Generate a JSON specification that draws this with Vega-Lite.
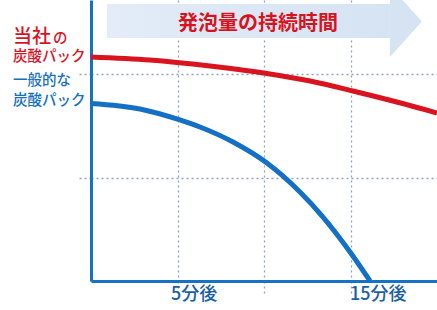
{
  "$schema": "https://vega.github.io/schema/vega-lite/v6.json",
  "width": 346,
  "height": 281,
  "autosize": {"type": "none"},
  "padding": {"left": 91, "top": 0, "right": 0, "bottom": 29},
  "background": "white",
  "config": {"view": {"stroke": null}},
  "datasets": {
    "curves": [
      {"series": "当社", "t": 0, "v": 2.164},
      {"series": "当社", "t": 3.41, "v": 2.135},
      {"series": "当社", "t": 6.88, "v": 2.077},
      {"series": "当社", "t": 10.17, "v": 2.005},
      {"series": "当社", "t": 12.66, "v": 1.932},
      {"series": "当社", "t": 15.14, "v": 1.836},
      {"series": "当社", "t": 17.57, "v": 1.734},
      {"series": "当社", "t": 20, "v": 1.623},
      {"series": "一般", "t": 0, "v": 1.715},
      {"series": "一般", "t": 2.83, "v": 1.662},
      {"series": "一般", "t": 5.14, "v": 1.556},
      {"series": "一般", "t": 6.3, "v": 1.488},
      {"series": "一般", "t": 8.21, "v": 1.343},
      {"series": "一般", "t": 10.17, "v": 1.14},
      {"series": "一般", "t": 12.08, "v": 0.86},
      {"series": "一般", "t": 13.41, "v": 0.618},
      {"series": "一般", "t": 15.14, "v": 0.242},
      {"series": "一般", "t": 16.13, "v": 0.0}
    ],
    "labels": [
      {"series": "当社", "kind": "big", "text": "当社", "t": -4.509, "v": 2.295},
      {"series": "当社", "kind": "small", "text": "の", "t": -2.2, "v": 2.295},
      {"series": "当社", "kind": "small", "text": "炭酸パック", "t": -4.509, "v": 2.122},
      {"series": "一般", "kind": "small", "text": "一般的な", "t": -4.509, "v": 1.889},
      {"series": "一般", "kind": "small", "text": "炭酸パック", "t": -4.509, "v": 1.696}
    ],
    "banner": [
      {"x0": 0.925, "x1": 17.28, "y0": 2.348, "y1": 2.676, "tip": 17.28, "mid": 2.507, "title": "発泡量の持続時間", "tc": 9.65, "tv": 2.425}
    ]
  },
  "layer": [
    {
      "data": {"name": "banner"},
      "mark": {
        "type": "rect",
        "color": {
          "gradient": "linear", "x1": 0, "x2": 1, "y1": 0, "y2": 0,
          "stops": [{"offset": 0, "color": "#e3ecf7"}, {"offset": 1, "color": "#d5e3f3"}]
        }
      },
      "encoding": {
        "x": {"field": "x0", "type": "quantitative", "scale": {"domain": [0, 20], "nice": false, "zero": false},
          "axis": {
            "values": [5, 10, 15],
            "labelExpr": "datum.value == 5 ? '5分後' : datum.value == 15 ? '15分後' : ''",
            "title": null,
            "grid": true, "gridColor": "#8fa0c4", "gridDash": [2, 3], "gridWidth": 1.3,
            "domainColor": "#1572c4", "domainWidth": 3,
            "ticks": true, "tickSize": 15, "tickColor": "#8fa0c4", "tickDash": [2, 3], "tickWidth": 1.3,
            "labelFont": "Noto Sans CJK JP", "labelFontSize": 18, "labelFontWeight": 500,
            "labelColor": "#1b5fa8", "labelAlign": "left", "labelBaseline": "top",
            "labelOffset": {"condition": {"test": "datum.value == 5", "value": -7}, "value": -1},
            "labelPadding": -11
          }},
        "x2": {"field": "x1"},
        "y": {"field": "y0", "type": "quantitative", "scale": {"domain": [0, 2.715], "nice": false, "zero": false},
          "axis": {
            "values": [1, 2], "labels": false, "title": null,
            "grid": true, "gridColor": "#8fa0c4", "gridDash": [2, 3], "gridWidth": 1.3,
            "domainColor": "#1572c4", "domainWidth": 3,
            "ticks": true, "tickSize": 13, "tickColor": "#8fa0c4", "tickDash": [2, 3], "tickWidth": 1.3
          }},
        "y2": {"field": "y1"}
      }
    },
    {
      "data": {"name": "banner"},
      "mark": {"type": "point", "shape": "M0,-1L0.9,0L0,1Z", "size": 5041, "filled": true, "color": "#d5e3f3", "opacity": 1, "strokeWidth": 0},
      "encoding": {
        "x": {"field": "tip", "type": "quantitative"},
        "y": {"field": "mid", "type": "quantitative"}
      }
    },
    {
      "data": {"name": "banner"},
      "mark": {"type": "text", "font": "Noto Sans CJK JP", "fontSize": 20, "fontWeight": "bold", "color": "#d7141e", "align": "center", "baseline": "alphabetic"},
      "encoding": {
        "x": {"field": "tc", "type": "quantitative"},
        "y": {"field": "tv", "type": "quantitative"},
        "text": {"field": "title"}
      }
    },
    {
      "data": {"name": "curves"},
      "mark": {"type": "line", "strokeWidth": 5, "interpolate": "monotone", "strokeCap": "butt"},
      "encoding": {
        "x": {"field": "t", "type": "quantitative"},
        "y": {"field": "v", "type": "quantitative"},
        "color": {"field": "series", "type": "nominal", "scale": {"domain": ["当社", "一般"], "range": ["#d9141f", "#1470c4"]}, "legend": null}
      }
    },
    {
      "data": {"name": "labels"},
      "transform": [{"filter": "datum.kind == 'big'"}],
      "mark": {"type": "text", "font": "Noto Sans CJK JP", "fontSize": 19, "fontWeight": 500, "align": "left", "baseline": "alphabetic"},
      "encoding": {
        "x": {"field": "t", "type": "quantitative"},
        "y": {"field": "v", "type": "quantitative"},
        "text": {"field": "text"},
        "color": {"field": "series", "type": "nominal", "legend": null}
      }
    },
    {
      "data": {"name": "labels"},
      "transform": [{"filter": "datum.kind == 'small'"}],
      "mark": {"type": "text", "font": "Noto Sans CJK JP", "fontSize": 14.5, "fontWeight": 500, "align": "left", "baseline": "alphabetic"},
      "encoding": {
        "x": {"field": "t", "type": "quantitative"},
        "y": {"field": "v", "type": "quantitative"},
        "text": {"field": "text"},
        "color": {"field": "series", "type": "nominal", "legend": null}
      }
    }
  ]
}
